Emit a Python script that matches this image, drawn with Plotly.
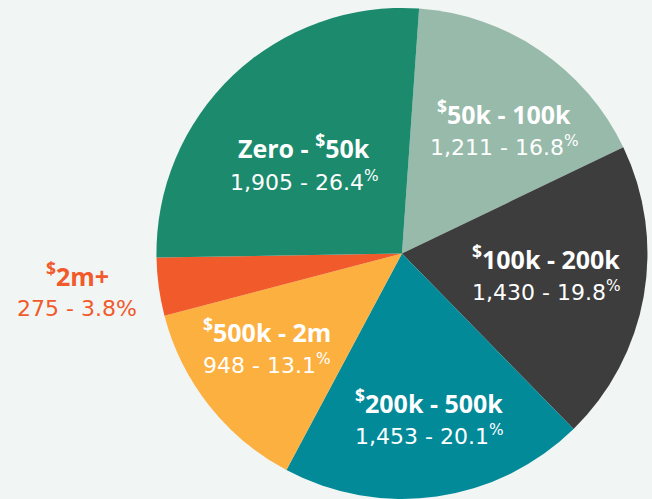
import plotly.graph_objects as go

W, H = 652, 499

categories = ["$50k - 100k", "$100k - 200k", "$200k - 500k", "$500k - 2m", "$2m+", "Zero - $50k"]
counts = [1211, 1430, 1453, 948, 275, 1905]
percents = [16.8, 19.8, 20.1, 13.1, 3.8, 26.4]
colors = ["#97BAAA", "#3D3D3D", "#028A99", "#FCB040", "#F15A2B", "#1B8A6D"]
label_colors = ["#FFFFFF", "#FFFFFF", "#FFFFFF", "#FFFFFF", "#F15A2B", "#FFFFFF"]
# label centre positions in pixels (x, line1 y, line2 y)
label_px = [(504, 112, 146), (546, 257, 291), (429, 401, 435), (267, 330, 364), (77, 274, 308), (304, 146, 181)]

fig = go.Figure(go.Pie(
    labels=categories,
    values=counts,
    sort=False,
    direction="clockwise",
    rotation=4,
    marker=dict(colors=colors, line=dict(width=0)),
    textinfo="none",
    hoverinfo="none",
    showlegend=False,
    domain=dict(x=[0.239, 0.994], y=[0.0, 0.984]),
))

def fmt_name(name):
    return name.replace("$", "<sup>$</sup>")

FONT1 = "'Open Sans', 'Noto Sans', sans-serif"
FONT2 = "'DejaVu Sans', sans-serif"
for name, c, p, col, (px, py1, py2) in zip(categories, counts, percents, label_colors, label_px):
    fig.add_annotation(
        x=px / W, y=1 - py1 / H, xref="paper", yref="paper",
        text="<b>" + fmt_name(name) + "</b>", showarrow=False,
        font=dict(family=FONT1, size=25, color=col),
        xanchor="center", yanchor="middle",
    )
    fig.add_annotation(
        x=px / W, y=1 - py2 / H, xref="paper", yref="paper",
        text=f"{c:,} - {p}<sup>%</sup>" if col == "#FFFFFF" else f"{c:,} - {p}%",
        showarrow=False,
        font=dict(family=FONT2, size=22, color=col),
        xanchor="center", yanchor="middle",
    )

fig.update_layout(
    width=W, height=H,
    margin=dict(l=0, r=0, t=0, b=0),
    paper_bgcolor="#F1F5F4",
    plot_bgcolor="#F1F5F4",
)

fig.write_html("out.html", config={"displayModeBar": False},
               post_script="document.body.style.margin='0px';document.body.style.background='#F1F5F4';")
